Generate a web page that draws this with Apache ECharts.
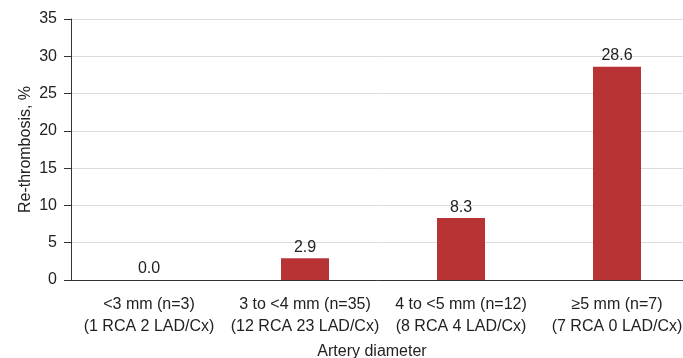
<!DOCTYPE html>
<html><head><meta charset="utf-8">
<script src="https://cdn.jsdelivr.net/npm/echarts@6/dist/echarts.min.js"></script>
<style>html,body{margin:0;padding:0;background:#fff}#c{width:683px;height:358px}</style>
</head><body><div id="c"></div>
<script>
const categories = ['<3 mm (n=3)\n(1 RCA 2 LAD/Cx)', '3 to <4 mm (n=35)\n(12 RCA 23 LAD/Cx)', '4 to <5 mm (n=12)\n(8 RCA 4 LAD/Cx)', '≥5 mm (n=7)\n(7 RCA 0 LAD/Cx)'];
const values = [0.0, 2.9, 8.3, 28.6];
const yTicks = {min: 0, max: 35, interval: 5};
const chart = echarts.init(document.getElementById('c'));
const font = 'Liberation Sans, Arial, Helvetica, sans-serif';
chart.setOption({
  animation: false,
  textStyle: {fontFamily: font},
  grid: {left: 71, top: 19, width: 624, height: 261, outerBoundsMode: 'none', containLabel: false},
  xAxis: {
    type: 'category', data: categories,
    name: 'Artery diameter', nameLocation: 'middle', nameGap: 64, nameMoveOverlap: false,
    nameTextStyle: {fontSize: 16, color: '#222', fontFamily: font, padding: [0, 22, 0, 0]},
    axisLine: {lineStyle: {color: '#333', width: 1}},
    axisTick: {alignWithLabel: true, length: 6, lineStyle: {color: '#333'}},
    axisLabel: {fontSize: 16, color: '#222', lineHeight: 22, margin: 14, fontFamily: font, interval: 0}
  },
  yAxis: {
    type: 'value', min: yTicks.min, max: yTicks.max, interval: yTicks.interval,
    name: 'Re-thrombosis, %', nameLocation: 'middle', nameGap: 37, nameMoveOverlap: false,
    nameTextStyle: {fontSize: 16, color: '#222', fontFamily: font},
    axisLine: {show: true, lineStyle: {color: '#333', width: 1}},
    axisTick: {show: true, length: 7, lineStyle: {color: '#333'}},
    axisLabel: {fontSize: 16, color: '#222', margin: 14, fontFamily: font},
    splitLine: {lineStyle: {color: '#dcdcdc'}}
  },
  series: [{
    type: 'bar', data: values, barWidth: 48,
    itemStyle: {color: '#b83334'},
    label: {show: true, position: 'top', distance: 3, fontSize: 16, color: '#222', fontFamily: font,
      formatter: p => p.value.toFixed(1)}
  }]
});
</script></body></html>
